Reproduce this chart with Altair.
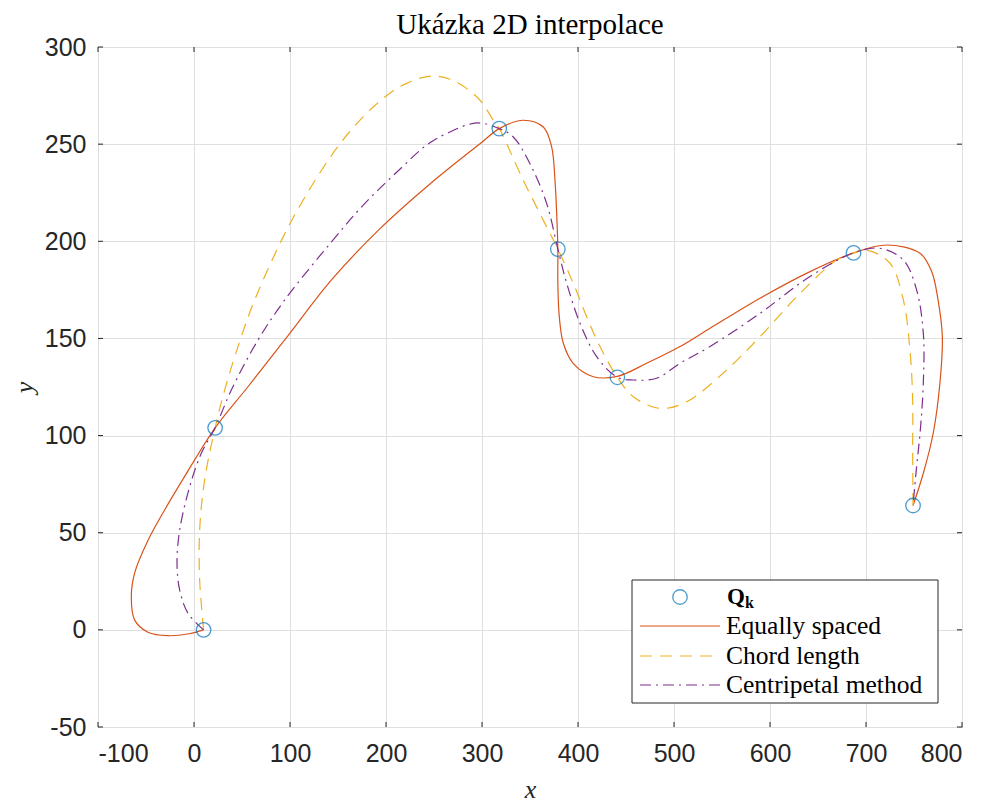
import altair as alt
import pandas as pd

# Data points Q_k
qx = [10, 22, 318, 379, 441, 687, 749]
qy = [0, 104, 258, 196, 130, 194, 64]

# Equally spaced parametrisation
eq_x = [10, -5, -27, -48, -61.8, -65.3, -61.8, -48, -30.6, -9.7, 22, 56, 98, 143, 193.75,
        245.8, 297.9, 318, 343, 363.9, 372.6, 376, 377.8, 379, 379, 380.5, 384.7, 395, 416, 441,
        471.5, 506.3, 537.5, 589.6, 641.7, 687, 721.5, 756.3, 768.4, 775, 779.5, 777, 770, 759.7, 749]
eq_y = [0, -2, -3, -1.2, 5, 17, 29.3, 46, 61.7, 79, 104, 125, 151.5, 180, 206.5,
        229.5, 250.2, 258, 262.3, 258.8, 248.5, 231.4, 214.2, 196, 178.4, 161.2, 147.5, 137.2, 130.3, 130.5,
        137.2, 145.8, 155.2, 170.7, 184.4, 194, 198.1, 193.8, 184.4, 170, 151, 126.9, 101.2, 80.6, 64]

# Chord length parametrisation
ch_x = [10, 5.9, 5.9, 11.1, 22, 32, 45.8, 63.2, 94.5, 115.3, 133, 148.6, 160.8, 183.3, 207.6, 221.5,
        238.8, 252.8, 266.7, 280, 297.9, 311.8, 318, 325.7, 343, 360.4, 379, 395.1, 409, 422.9, 441,
        457.6, 485.4, 513.2, 554.9, 589.6, 631.3, 669.5, 687, 700.7, 725, 738.9, 745.8, 748.6, 748.6, 749]
ch_y = [0, 25.7, 51.4, 77.2, 104, 123.5, 145.8, 169.8, 203.9, 222.5, 236.7, 247.9, 255.6, 267.6, 277.5, 281.3,
        284.4, 285, 283.4, 280, 272.6, 262.3, 258, 250.2, 231.4, 214.2, 196, 178.4, 161.2, 145.8, 130,
        120, 114, 117.4, 133.8, 150.9, 173.2, 190.4, 194, 195.5, 188.7, 169.8, 144, 118.3, 92.6, 64]

# Centripetal parametrisation
ce_x = [10, -6.25, -14.9, -17.7, -14.9, -4.5, 7.6, 22, 38.9, 66.7, 94.5, 143, 177.8, 216.4, 242.4,
        263.2, 294.5, 318, 332.6, 350, 367.4, 379, 388.2, 402.1, 419.5, 441, 457.6, 482, 506.3,
        537.5, 589.6, 641.7, 687, 714.6, 738.9, 752.7, 759.7, 759.7, 756.3, 752.7, 749]
ce_y = [0, 8.5, 20.5, 34.3, 51.4, 73.7, 90.9, 104, 123.5, 149.2, 169.8, 199.6, 219.4, 238, 249.6,
        255.5, 260.9, 258, 253.7, 239.9, 219.4, 196, 178.4, 157.8, 140.6, 130, 128.6, 129.5, 137.2,
        145.8, 162.9, 181.9, 194, 196.4, 190.4, 175, 152.6, 126.9, 101.2, 84, 64]

x_ticks = [-100, 0, 100, 200, 300, 400, 500, 600, 700, 800]
y_ticks = [-50, 0, 50, 100, 150, 200, 250, 300]

W, H = 864, 680
AX = "#262626"
RED, YEL, PUR, BLU = "#D95319", "#EDB120", "#7E2F8E", "#0072BD"
SERIF = "Liberation Serif"
SANS = "Liberation Sans"

xs = alt.Scale(domain=[-100, 800], nice=False, zero=False)
ys = alt.Scale(domain=[-50, 300], nice=False, zero=False)


def curve(xv, yv, color, dash):
    df = pd.DataFrame({"x": xv, "y": yv, "o": list(range(len(xv)))})
    kw = {"strokeDash": dash} if dash else {}
    return alt.Chart(df).mark_line(color=color, strokeWidth=1.2, interpolate="catmull-rom",
                                   clip=True, **kw).encode(
        x=alt.X("x:Q", scale=xs), y=alt.Y("y:Q", scale=ys), order="o:Q")


xaxis = alt.Axis(values=x_ticks, grid=True, gridColor="#dfdfdf", gridWidth=1, domain=False, ticks=False,
                 labelExpr="'' + datum.value", labelFont=SANS, labelFontSize=25, labelColor=AX,
                 labelPadding=14, title="x", titleFont=SERIF, titleFontStyle="italic",
                 titleFontWeight="normal", titleFontSize=26, titleColor=AX, titlePadding=10)
yaxis = alt.Axis(values=y_ticks, grid=True, gridColor="#dfdfdf", gridWidth=1, domain=False, ticks=False,
                 labelExpr="'' + datum.value", labelFont=SANS, labelFontSize=25, labelColor=AX,
                 labelPadding=12, title="y", titleFont=SERIF, titleFontStyle="italic",
                 titleFontWeight="normal", titleFontSize=26, titleColor=AX, titlePadding=7)

base = alt.Chart(pd.DataFrame({"x": [0], "y": [0]})).mark_point(opacity=0).encode(
    x=alt.X("x:Q", scale=xs, axis=xaxis), y=alt.Y("y:Q", scale=ys, axis=yaxis))

xt = pd.DataFrame({"v": x_ticks})
yt = pd.DataFrame({"v": y_ticks})
tick_layers = [
    alt.Chart(xt).mark_rule(color=AX, strokeWidth=1).encode(
        x=alt.X("v:Q", scale=xs), y=alt.value(H), y2=alt.value(H - 5)),
    alt.Chart(xt).mark_rule(color=AX, strokeWidth=1).encode(
        x=alt.X("v:Q", scale=xs), y=alt.value(0), y2=alt.value(5)),
    alt.Chart(yt).mark_rule(color=AX, strokeWidth=1).encode(
        y=alt.Y("v:Q", scale=ys), x=alt.value(0), x2=alt.value(5)),
    alt.Chart(yt).mark_rule(color=AX, strokeWidth=1).encode(
        y=alt.Y("v:Q", scale=ys), x=alt.value(W), x2=alt.value(W - 5)),
]

pts = alt.Chart(pd.DataFrame({"x": qx, "y": qy})).mark_point(
    shape="circle", filled=False, color=BLU, size=210, strokeWidth=1.3).encode(
    x=alt.X("x:Q", scale=xs), y=alt.Y("y:Q", scale=ys))

# Legend (drawn manually)
one = pd.DataFrame({"a": [0]})
LX0, LX1, LY0, LY1 = 534, 840, 533, 656
rows = [550, 579, 609, 638]
leg = [
    alt.Chart(one).mark_rect(fill="white", stroke=AX, strokeWidth=1).encode(
        x=alt.value(LX0), x2=alt.value(LX1), y=alt.value(LY0), y2=alt.value(LY1)),
    alt.Chart(one).mark_point(shape="circle", filled=False, color=BLU, size=210, strokeWidth=1.3).encode(
        x=alt.value(582), y=alt.value(rows[0])),
    alt.Chart(one).mark_rule(color=RED, strokeWidth=1.2).encode(
        x=alt.value(542), x2=alt.value(622), y=alt.value(rows[1])),
    alt.Chart(one).mark_rule(color=YEL, strokeWidth=1.2, strokeDash=[12, 8]).encode(
        x=alt.value(542), x2=alt.value(622), y=alt.value(rows[2])),
    alt.Chart(one).mark_rule(color=PUR, strokeWidth=1.2, strokeDash=[11, 5, 2, 5]).encode(
        x=alt.value(542), x2=alt.value(622), y=alt.value(rows[3])),
    alt.Chart(one).mark_text(align="left", baseline="middle", font=SERIF, fontSize=23,
                             fontWeight="bold", color="black").encode(
        x=alt.value(629), y=alt.value(rows[0]), text=alt.value("Q")),
    alt.Chart(one).mark_text(align="left", baseline="middle", font=SERIF, fontSize=16,
                             fontWeight="bold", color="black").encode(
        x=alt.value(647), y=alt.value(rows[0] + 6), text=alt.value("k")),
]
for lbl, ry in zip(["Equally spaced", "Chord length", "Centripetal method"], rows[1:]):
    leg.append(alt.Chart(one).mark_text(align="left", baseline="middle", font=SERIF, fontSize=25.5,
                                        color="black").encode(
        x=alt.value(628), y=alt.value(ry), text=alt.value(lbl)))

chart = alt.layer(
    base,
    curve(eq_x, eq_y, RED, None),
    curve(ch_x, ch_y, YEL, [12, 8]),
    curve(ce_x, ce_y, PUR, [11, 5, 2, 5]),
    pts,
    *tick_layers,
    *leg,
).properties(
    width=W, height=H,
    title=alt.TitleParams("Ukázka 2D interpolace", font=SERIF, fontSize=29, fontWeight="normal",
                          color="black", anchor="middle", offset=-5),
    autosize=alt.AutoSizeParams(type="none"),
    padding={"left": 90, "top": 39, "right": 17, "bottom": 75},
).configure_view(stroke=AX, strokeWidth=1)

chart.save("out.html", embed_options={"renderer": "svg", "actions": False})
